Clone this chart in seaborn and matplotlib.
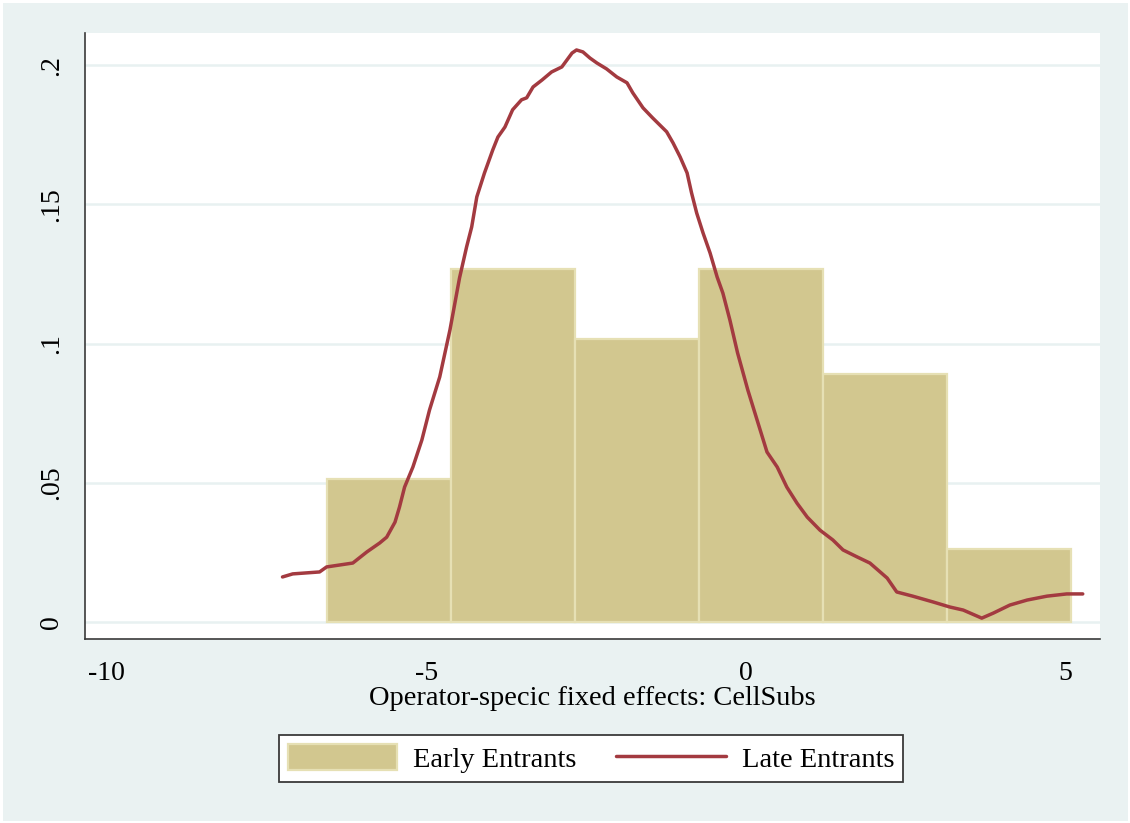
import matplotlib
matplotlib.use("Agg")
import matplotlib.pyplot as plt
import seaborn as sns
import numpy as np
from matplotlib.patches import Rectangle, Patch
from matplotlib.lines import Line2D

# Early entrants: histogram (density)
bin_edges = [-6.56, -4.62, -2.68, -0.74, 1.20, 3.14, 5.08]
early_density = [0.0513, 0.1268, 0.1016, 0.1268, 0.0891, 0.0261]

# Late entrants: kernel density curve
late_x = [-7.25, -7.09, -6.67, -6.56, -6.15, -5.93, -5.73, -5.62, -5.49, -5.42,
          -5.34, -5.21, -5.07, -4.95, -4.79, -4.63, -4.48, -4.37, -4.29, -4.21,
          -4.09, -3.96, -3.88, -3.77, -3.65, -3.51, -3.43, -3.33, -3.19, -3.04,
          -2.88, -2.80, -2.72, -2.65, -2.55, -2.44, -2.33, -2.18, -2.02, -1.86,
          -1.77, -1.61, -1.46, -1.24, -1.14, -1.03, -0.92, -0.85, -0.77, -0.67,
          -0.56, -0.45, -0.36, -0.25, -0.13, 0.03, 0.19, 0.33, 0.49, 0.64,
          0.80, 0.96, 1.16, 1.36, 1.52, 1.74, 1.94, 2.21, 2.36, 2.61,
          2.93, 3.19, 3.40, 3.69, 3.87, 4.13, 4.40, 4.71, 5.02, 5.27]
late_y = [0.0161, 0.0172, 0.0179, 0.0197, 0.0211, 0.0251, 0.0283, 0.0304, 0.0358, 0.0412,
          0.0484, 0.0556, 0.0653, 0.0761, 0.0880, 0.1049, 0.1236, 0.1347, 0.1419, 0.1527,
          0.1613, 0.1696, 0.1742, 0.1778, 0.1840, 0.1876, 0.1883, 0.1922, 0.1947, 0.1976,
          0.1994, 0.2019, 0.2044, 0.2055, 0.2048, 0.2026, 0.2008, 0.1987, 0.1958, 0.1937,
          0.1901, 0.1847, 0.1811, 0.1761, 0.1721, 0.1671, 0.1613, 0.1541, 0.1469, 0.1397,
          0.1325, 0.1239, 0.1181, 0.1084, 0.0966, 0.0833, 0.0714, 0.0610, 0.0556, 0.0484,
          0.0426, 0.0376, 0.0329, 0.0294, 0.0258, 0.0233, 0.0211, 0.0157, 0.0107, 0.0092,
          0.0071, 0.0053, 0.0042, 0.0013, 0.0031, 0.0060, 0.0078, 0.0092, 0.0100, 0.0100]

x_ticks = [-10, -5, 0, 5]
y_ticks = [0, 0.05, 0.1, 0.15, 0.2]
y_tick_labels = ["0", ".05", ".1", ".15", ".2"]

bar_color = "#d2c78f"
bar_edge = "#e6e0b4"
line_color = "#a33a40"
spine_color = "#3a3a3a"

sns.set_style("white")
plt.rcParams["font.family"] = ["Liberation Serif", "DejaVu Serif"]
plt.rcParams["text.color"] = "black"

fig = plt.figure(figsize=(11.3, 8.23), dpi=100, facecolor="white")
# Stata-like outer graph region
fig.patches.append(Rectangle((3 / 1130, 2 / 823), 1 - 5 / 1130, 1 - 5 / 823,
                             transform=fig.transFigure, facecolor="#eaf2f2",
                             edgecolor="none", zorder=-10))
ax = fig.add_axes([85 / 1130, 1 - 639 / 823, 1015 / 1130, 606 / 823])
ax.set_facecolor("white")

centers = (np.array(bin_edges[:-1]) + np.array(bin_edges[1:])) / 2
sns.histplot(x=centers, weights=early_density, bins=bin_edges, stat="count",
             color=bar_color, edgecolor=bar_edge, linewidth=1.6, alpha=1, ax=ax, zorder=2)
sns.lineplot(x=late_x, y=late_y, color=line_color, linewidth=2.5, ax=ax, zorder=3)

ax.set_xlim(-10.34, 5.54)
ax.set_ylim(-0.0062, 0.2116)

ax.set_xticks(x_ticks)
ax.set_xticklabels([str(t) for t in x_ticks], fontsize=20, color="black")
ax.set_yticks(y_ticks)
ax.set_yticklabels(y_tick_labels, fontsize=20, rotation=90, va="center", color="black")
ax.tick_params(axis="both", direction="out", length=9, width=1.1, color=spine_color, pad=6)
ax.tick_params(axis="x", pad=7)

ax.yaxis.grid(True, color="#e8f1f1", linewidth=1.8)
ax.xaxis.grid(False)
ax.set_axisbelow(True)

for side in ["top", "right"]:
    ax.spines[side].set_visible(False)
for side in ["left", "bottom"]:
    ax.spines[side].set_color(spine_color)
    ax.spines[side].set_linewidth(1.2)

ax.set_xlabel("Operator-specic fixed effects: CellSubs", fontsize=20.5,
              labelpad=0, color="black")
ax.set_ylabel("")

handles = [Patch(facecolor=bar_color, edgecolor=bar_edge, linewidth=1.6),
           Line2D([0], [0], color=line_color, linewidth=2.5)]
leg = fig.legend(handles, ["Early Entrants", "Late Entrants"], ncol=2,
                 loc="center", bbox_to_anchor=(591 / 1130, 1 - 758.5 / 823),
                 fontsize=20.5, frameon=True, fancybox=False, handlelength=3.85,
                 handleheight=1.05, handletextpad=0.55, columnspacing=1.4,
                 borderpad=0.3, labelcolor="black")
leg.get_frame().set_edgecolor(spine_color)
leg.get_frame().set_linewidth(1.3)
leg.get_frame().set_facecolor("white")
leg.get_frame().set_alpha(1)

fig.savefig("out.png", dpi=100, facecolor=fig.get_facecolor())
